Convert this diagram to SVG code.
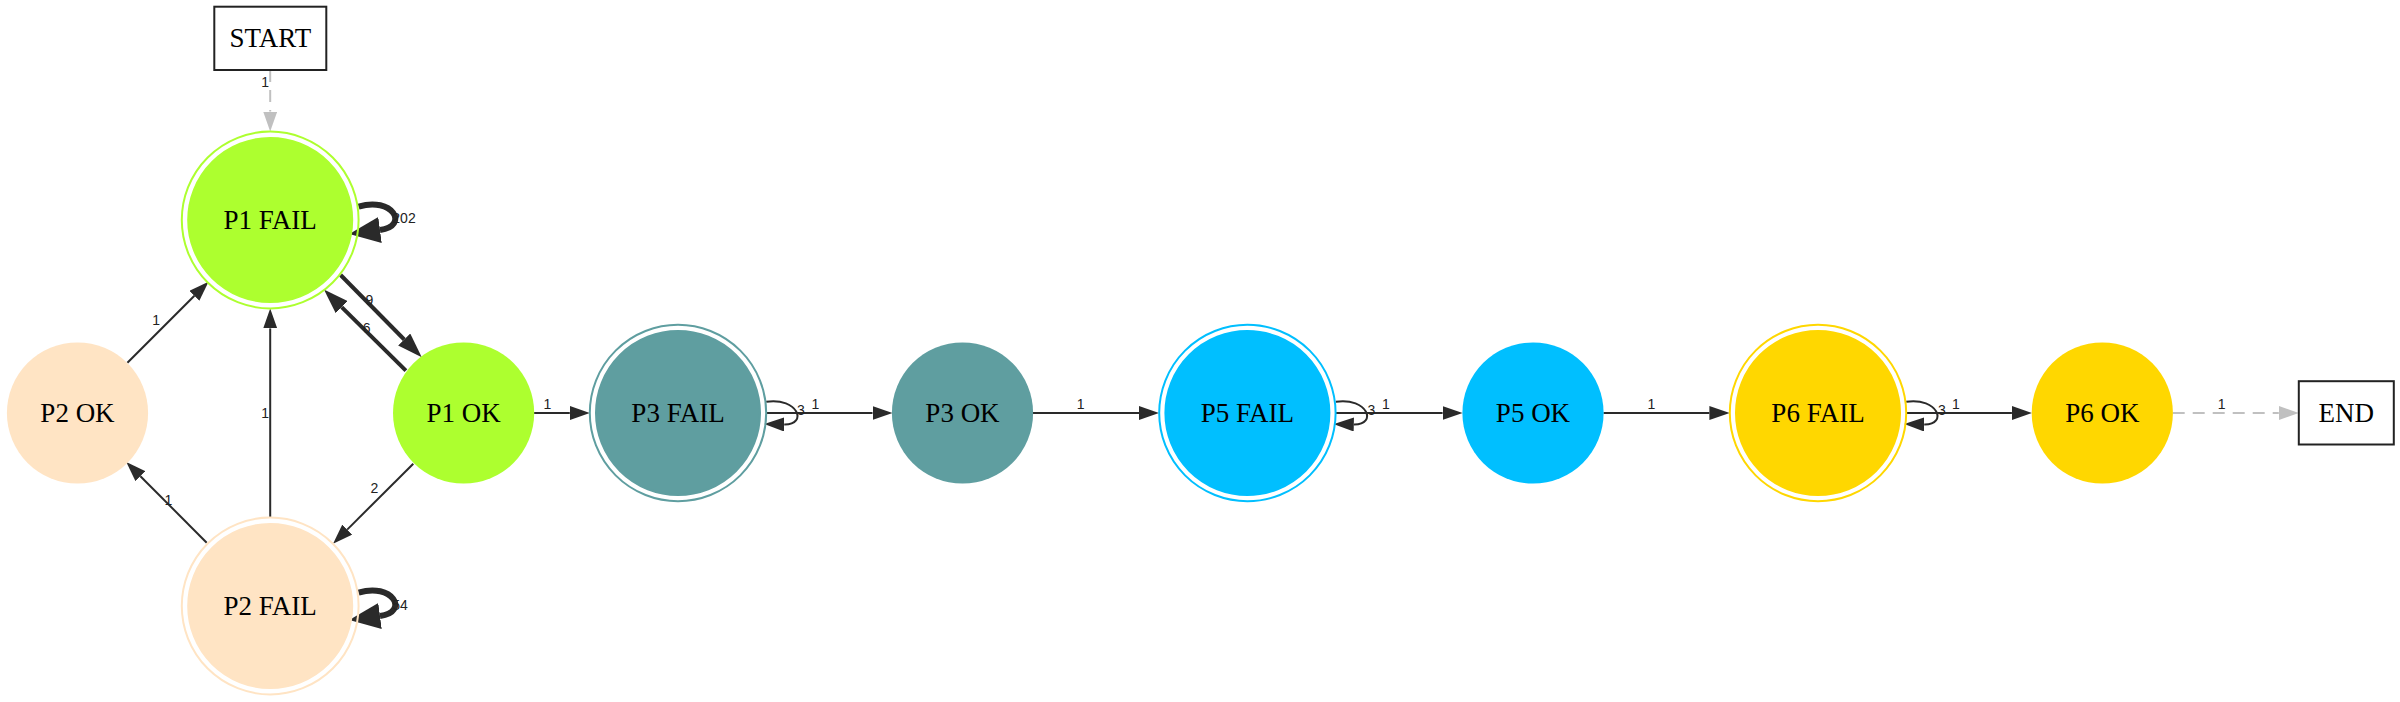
<svg xmlns="http://www.w3.org/2000/svg" width="2400" height="702" viewBox="0 0 2400 702">
<style>
.nl{font-family:"Liberation Serif","Times New Roman",serif;font-size:27px;fill:#000;text-anchor:middle}
.el{font-family:"Liberation Sans",Arial,sans-serif;font-size:14px;fill:#222;text-anchor:middle}
.e{fill:none;stroke:#2a2a2a;stroke-width:2}
.et{fill:none;stroke:#2a2a2a;stroke-width:4}
.eh{fill:none;stroke:#2a2a2a;stroke-width:6}
.eg{fill:none;stroke:#c0c0c0;stroke-width:2;stroke-dasharray:12,8}
.box{fill:#fff;stroke:#222;stroke-width:2}
</style>
<defs>
<marker id="arr" viewBox="0 0 20 14" refX="0" refY="7" markerWidth="20" markerHeight="14" orient="auto" markerUnits="userSpaceOnUse"><path d="M0,0 L20,7 L0,14 z" fill="#2a2a2a"/></marker>
<marker id="arrG" viewBox="0 0 20 14" refX="0" refY="7" markerWidth="20" markerHeight="14" orient="auto" markerUnits="userSpaceOnUse"><path d="M0,0 L20,7 L0,14 z" fill="#c0c0c0"/></marker>
<marker id="arrT" viewBox="0 0 25 17" refX="0" refY="8.5" markerWidth="25" markerHeight="17" orient="auto" markerUnits="userSpaceOnUse"><path d="M0,0 L25,8.5 L0,17 z" fill="#2a2a2a"/></marker>
<marker id="arrH" viewBox="0 0 31 26" refX="0" refY="13" markerWidth="31" markerHeight="26" orient="auto" markerUnits="userSpaceOnUse"><path d="M0,0 L31,13 L0,26 z" fill="#2a2a2a"/></marker>
</defs>
<rect width="2400" height="702" fill="#fff"/>

<g id="connectors">
<path class="eg" d="M270.2,70 L270.2,111.6" marker-end="url(#arrG)"/>
<path class="eh" d="M358.6,206.7 c33.4,-10.7 51.4,19.3 21.4,23.3" marker-end="url(#arrH)"/>
<path class="et" d="M340.6,275 L404.2,339.5" marker-end="url(#arrT)"/>
<path class="et" d="M405.9,370.7 L341.7,307.2" marker-end="url(#arrT)"/>
<path class="e" d="M127.4,362.7 L194.4,295.8" marker-end="url(#arr)"/>
<path class="e" d="M270.2,517.2 L270.2,328.4" marker-end="url(#arr)"/>
<path class="e" d="M206.7,542.7 L140.4,476.2" marker-end="url(#arr)"/>
<path class="e" d="M413.3,463.7 L347.2,529.6" marker-end="url(#arr)"/>
<path class="eh" d="M358.6,592.7 c33.4,-10.7 51.4,19.3 21.4,23.3" marker-end="url(#arrH)"/>
<path class="e" d="M534.1,413 L569.8,413" marker-end="url(#arr)"/>
<path class="e" d="M766.2,401.7 c32,-4.7 42,23.3 18,22.8" marker-end="url(#arr)"/>
<path class="e" d="M766.2,413 L872.5,413" marker-end="url(#arr)"/>
<path class="e" d="M1033,413 L1139,413" marker-end="url(#arr)"/>
<path class="e" d="M1335.8,401.7 c32,-4.7 42,23.3 18,22.8" marker-end="url(#arr)"/>
<path class="e" d="M1335.8,413 L1442.6,413" marker-end="url(#arr)"/>
<path class="e" d="M1603.5,413 L1709.4,413" marker-end="url(#arr)"/>
<path class="e" d="M1906.2,401.7 c32,-4.7 42,23.3 18,22.8" marker-end="url(#arr)"/>
<path class="e" d="M1906.2,413 L2011.9,413" marker-end="url(#arr)"/>
<path class="eg" d="M2172.7,413 L2278.8,413" marker-end="url(#arrG)"/>
<text class="el" x="265.2" y="87.3">1</text>
<text class="el" x="404" y="223.3">202</text>
<text class="el" x="369.3" y="305">9</text>
<text class="el" x="366.6" y="333.3">6</text>
<text class="el" x="156.1" y="325">1</text>
<text class="el" x="265.2" y="418.3">1</text>
<text class="el" x="168.4" y="505">1</text>
<text class="el" x="374.3" y="492.7">2</text>
<text class="el" x="400" y="610.3">54</text>
<text class="el" x="547.4" y="409">1</text>
<text class="el" x="801" y="415">3</text>
<text class="el" x="815.3" y="409">1</text>
<text class="el" x="1080.6" y="409">1</text>
<text class="el" x="1371.5" y="415">3</text>
<text class="el" x="1385.8" y="409">1</text>
<text class="el" x="1651.4" y="409">1</text>
<text class="el" x="1942" y="415">3</text>
<text class="el" x="1956" y="409">1</text>
<text class="el" x="2221.7" y="409">1</text>
</g>

<g id="START"><rect class="box" x="214.3" y="6.7" width="112" height="63.3"/><text class="nl" x="270.3" y="47.4">START</text></g>
<g id="P1_FAIL"><circle cx="270.2" cy="220" r="88.4" fill="none" stroke="#adff2f" stroke-width="2"/><circle cx="270.2" cy="220" r="82" fill="#adff2f" stroke="#adff2f" stroke-width="2"/><text class="nl" x="270.2" y="229">P1 FAIL</text></g>
<g id="P2_OK"><circle cx="77.5" cy="413" r="70.6" fill="#ffe4c4"/><text class="nl" x="77.5" y="422">P2 OK</text></g>
<g id="P1_OK"><circle cx="463.6" cy="413" r="70.6" fill="#adff2f"/><text class="nl" x="463.6" y="422">P1 OK</text></g>
<g id="P2_FAIL"><circle cx="270.2" cy="606" r="88.4" fill="none" stroke="#ffe4c4" stroke-width="2"/><circle cx="270.2" cy="606" r="82" fill="#ffe4c4" stroke="#ffe4c4" stroke-width="2"/><text class="nl" x="270.2" y="615">P2 FAIL</text></g>
<g id="P3_FAIL"><circle cx="678" cy="413" r="88.2" fill="none" stroke="#5f9ea0" stroke-width="2"/><circle cx="678" cy="413" r="82" fill="#5f9ea0" stroke="#5f9ea0" stroke-width="2"/><text class="nl" x="678" y="422">P3 FAIL</text></g>
<g id="P3_OK"><circle cx="962.5" cy="413" r="70.6" fill="#5f9ea0"/><text class="nl" x="962.5" y="422">P3 OK</text></g>
<g id="P5_FAIL"><circle cx="1247.4" cy="413" r="88.2" fill="none" stroke="#00bfff" stroke-width="2"/><circle cx="1247.4" cy="413" r="82" fill="#00bfff" stroke="#00bfff" stroke-width="2"/><text class="nl" x="1247.4" y="422">P5 FAIL</text></g>
<g id="P5_OK"><circle cx="1533" cy="413" r="70.6" fill="#00bfff"/><text class="nl" x="1533" y="422">P5 OK</text></g>
<g id="P6_FAIL"><circle cx="1818" cy="413" r="88.2" fill="none" stroke="#ffd700" stroke-width="2"/><circle cx="1818" cy="413" r="82" fill="#ffd700" stroke="#ffd700" stroke-width="2"/><text class="nl" x="1818" y="422">P6 FAIL</text></g>
<g id="P6_OK"><circle cx="2102.3" cy="413" r="70.6" fill="#ffd700"/><text class="nl" x="2102.3" y="422">P6 OK</text></g>
<g id="END"><rect class="box" x="2298.8" y="381.2" width="95" height="63.3"/><text class="nl" x="2346.3" y="422">END</text></g>
</svg>
